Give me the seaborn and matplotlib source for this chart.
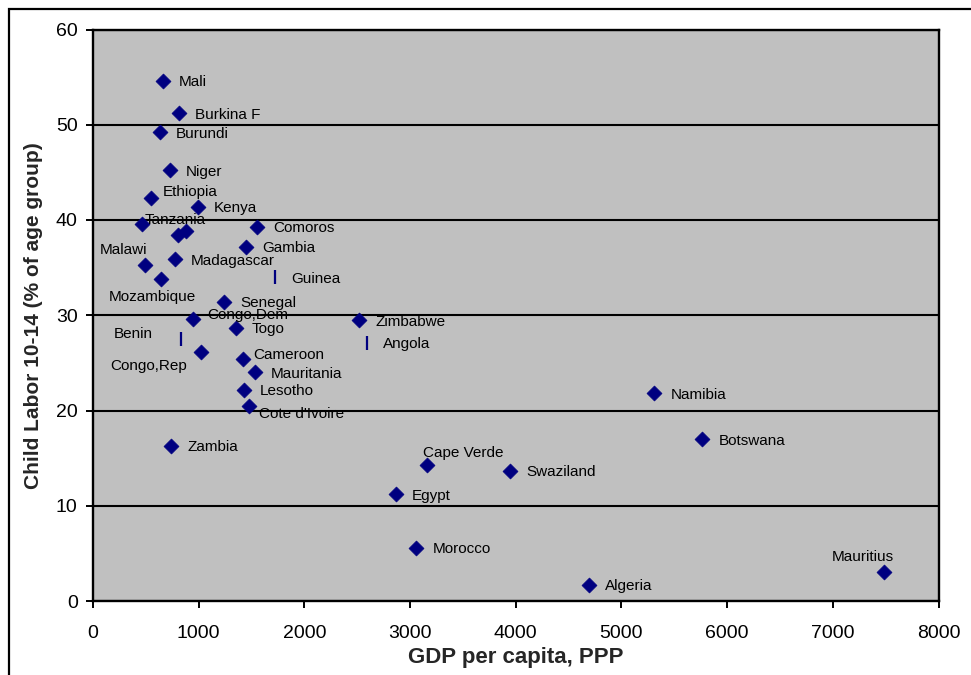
import matplotlib
matplotlib.use("Agg")
import matplotlib.pyplot as plt
import seaborn as sns
import pandas as pd
from matplotlib.patches import Rectangle

# ---- data ----
countries = ["Mali", "Burkina F", "Burundi", "Niger", "Ethiopia", "Kenya", "Tanzania",
             "", "", "Comoros", "Gambia", "Malawi", "Madagascar", "Mozambique",
             "Senegal", "Congo,Dem", "Togo", "Congo,Rep", "Cameroon", "Mauritania",
             "Lesotho", "Cote d'Ivoire", "Zimbabwe", "Zambia", "Namibia", "Botswana",
             "Cape Verde", "Swaziland", "Egypt", "Morocco", "Algeria", "Mauritius"]
gdp = [663, 814, 634, 729, 549, 994, 464,
       805, 880, 1553, 1449, 492, 776, 644,
       1240, 947, 1354, 1023, 1420, 1534,
       1430, 1477, 2519, 739, 5312, 5767,
       3163, 3949, 2869, 3059, 4697, 7481]
child_labor = [54.6, 51.2, 49.2, 45.2, 42.3, 41.4, 39.6,
               38.4, 38.8, 39.3, 37.2, 35.3, 35.9, 33.8,
               31.4, 29.6, 28.7, 26.1, 25.4, 24.0,
               22.2, 20.5, 29.5, 16.3, 21.8, 17.0,
               14.3, 13.7, 11.2, 5.6, 1.7, 3.0]

# countries drawn with a vertical-bar marker
bar_countries = ["Guinea", "Benin", "Angola"]
bar_gdp = [1723, 833, 2595]
bar_child_labor = [34.0, 27.5, 27.1]

x_ticks = [0, 1000, 2000, 3000, 4000, 5000, 6000, 7000, 8000]
y_ticks = [0, 10, 20, 30, 40, 50, 60]

# ---- label placement (pixel offsets from the point, alignment) ----
default_off = (16, -1.5, "left", "center")
label_offsets = {
    "Tanzania": (3, 4, "left", "center"),
    "Ethiopia": (12, 6, "left", "center"),
    "Malawi": (2, 15, "right", "center"),
    "Mozambique": (-9, -18, "center", "center"),
    "Congo,Dem": (14, 4, "left", "center"),
    "Benin": (-28, 5, "right", "center"),
    "Congo,Rep": (-14, -14, "right", "center"),
    "Cameroon": (10, 4, "left", "center"),
    "Cote d'Ivoire": (10, -8, "left", "center"),
    "Cape Verde": (-4, 12, "left", "center"),
    "Mauritius": (-21, 15, "center", "center"),
}

df = pd.DataFrame({"country": countries, "gdp": gdp, "labor": child_labor})
dfb = pd.DataFrame({"country": bar_countries, "gdp": bar_gdp, "labor": bar_child_labor})

sns.set_theme(style="white")
plt.rcParams["font.family"] = ["Liberation Sans", "DejaVu Sans"]

fig = plt.figure(figsize=(9.71, 6.75), dpi=100)
ax = fig.add_axes([93 / 971, 1 - 601 / 675, (938.5 - 93) / 971, (601 - 29.5) / 675])
ax.set_facecolor("#C0C0C0")

navy = "#000080"
sns.scatterplot(data=df, x="gdp", y="labor", marker="D", s=58, color=navy,
                edgecolor=navy, linewidth=0.5, ax=ax, zorder=3, legend=False)
sns.scatterplot(data=dfb, x="gdp", y="labor", marker="|", s=90, color=navy,
                linewidth=1.6, ax=ax, zorder=3, legend=False)

for d in (df, dfb):
    for _, r in d.iterrows():
        if not r["country"]:
            continue
        dx, dy, ha, va = label_offsets.get(r["country"], default_off)
        ax.annotate(r["country"], (r["gdp"], r["labor"]), xytext=(dx, dy),
                    textcoords="offset pixels", ha=ha, va=va, fontsize=11,
                    color="black", zorder=4)

ax.set_xlim(0, 8000)
ax.set_ylim(0, 60)
ax.set_xticks(x_ticks)
ax.set_yticks(y_ticks)
ax.yaxis.grid(True, color="black", linewidth=1.5)
ax.xaxis.grid(False)
ax.set_axisbelow(True)
for s in ax.spines.values():
    s.set_visible(True)
    s.set_color("black")
    s.set_linewidth(1.7)
ax.tick_params(axis="both", direction="out", length=5, width=1.4, color="black",
               labelsize=14, labelcolor="black", left=True, bottom=True)
ax.tick_params(axis="x", pad=12)
ax.tick_params(axis="y", pad=6)
ax.set_xlabel("GDP per capita, PPP", fontsize=16, fontweight="bold", labelpad=4)
ax.set_ylabel("Child Labor 10-14 (% of age group)", fontsize=15, fontweight="bold",
              labelpad=9)

# outer chart frame (cropped at right and bottom like the reference)
fig.patches.append(Rectangle((9 / 971, -0.1), 1.2, 1 - 9 / 675 + 0.1,
                             transform=fig.transFigure, fill=False,
                             edgecolor="black", linewidth=1.6))

fig.savefig("out.png", dpi=100)
